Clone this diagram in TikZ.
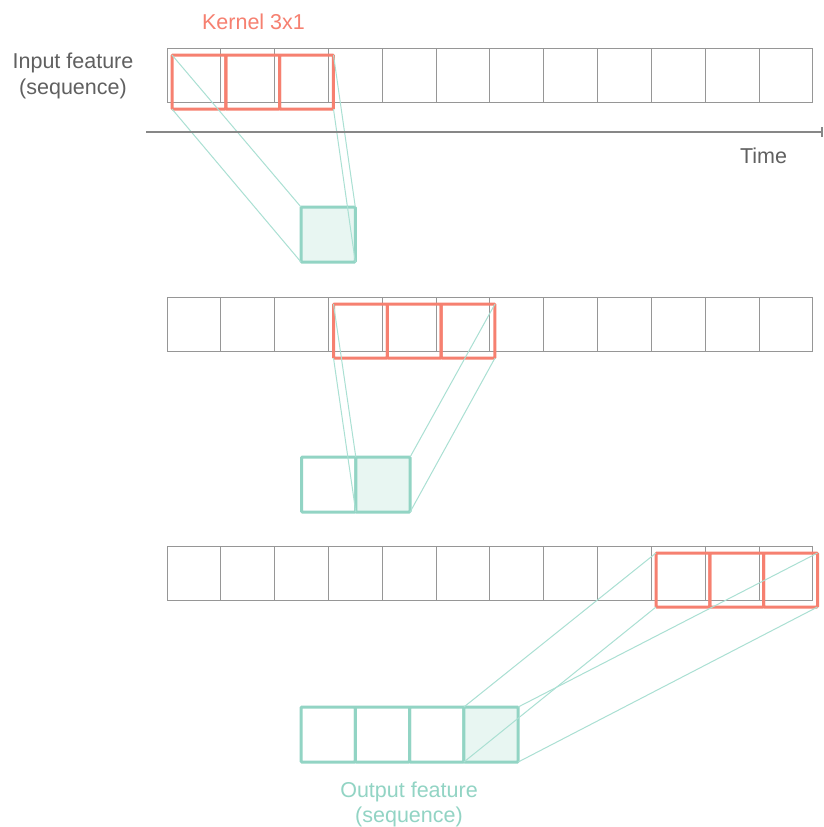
\documentclass[tikz,border=0pt]{standalone}
\usepackage{fontspec}
\setmainfont{Liberation Sans}
\usetikzlibrary{arrows.meta}
\definecolor{gridgray}{RGB}{150,150,150}
\definecolor{axisgray}{RGB}{135,135,135}
\definecolor{kred}{RGB}{246,128,112}
\definecolor{tgreen}{RGB}{146,212,196}
\definecolor{lgreen}{RGB}{170,224,211}
\definecolor{tfill}{RGB}{232,246,242}
\definecolor{txtgray}{RGB}{96,96,96}
\begin{document}
\begin{tikzpicture}[x=1pt,y=-1pt,
  cell/.style={draw=gridgray, line width=1pt, minimum width=53.83pt, minimum height=54pt, inner sep=0pt, outer sep=0pt, anchor=north west},
  kern/.style={draw=kred, line width=3pt, minimum width=53.83pt, minimum height=54pt, inner sep=0pt, outer sep=0pt, anchor=north west, rounded corners=1pt},
  ocell/.style={draw=tgreen, line width=3pt, minimum width=54.3pt, minimum height=55pt, inner sep=0pt, outer sep=0pt, anchor=north west, rounded corners=1pt},
  ofill/.style={ocell, fill=tfill},
  proj/.style={draw=lgreen, line width=1pt},
  lab/.style={font=\fontsize{21.5}{25}\selectfont, anchor=base, inner sep=0pt}]
\useasboundingbox (0,0) rectangle (824,827);
\fill[white] (0,0) rectangle (824,827);
% input grids
\foreach \i in {0,...,11} {
  \node[cell] (ga\i) at ({167+\i*53.83},48) {};
  \node[cell] (gb\i) at ({167+\i*53.83},297) {};
  \node[cell] (gc\i) at ({167+\i*53.83},546) {};
}
% kernels
\foreach \i/\n in {0/a,1/b,2/c} {
  \node[kern] (k1\n) at ({172+\i*53.83},55) {};
  \node[kern] (k2\n) at ({333.5+\i*53.83},304) {};
  \node[kern] (k3\n) at ({656+\i*53.83},553) {};
}
% outputs
\node[ofill] (o1a) at (301,207) {};
\node[ocell] (o2a) at (301.5,457) {};
\node[ofill] (o2b) at (355.8,457) {};
\node[ocell] (o3a) at (301,707) {};
\node[ocell] (o3b) at (355.3,707) {};
\node[ocell] (o3c) at (409.6,707) {};
\node[ofill] (o3d) at (463.9,707) {};
% projection lines
\foreach \k/\o in {1/o1a,2/o2b,3/o3d} {
  \draw[proj] (k\k a.north west) -- (\o.north west);
  \draw[proj] (k\k a.south west) -- (\o.south west);
  \draw[proj] (k\k c.north east) -- (\o.north east);
  \draw[proj] (k\k c.south east) -- (\o.south east);
}
% time axis
\coordinate (t0) at (146,132);
\coordinate (t1) at (822.5,132);
\draw[axisgray, line width=1.4pt, -{Bar[width=10pt, line width=1.4pt]}] (t0) -- (t1);
% labels
\node[lab, text=kred] (klab) at (253.5,29) {Kernel 3x1};
\node[lab, text=txtgray] (inA) at (73,68) {Input feature};
\node[lab, text=txtgray] (inB) at (73,94.5) {(sequence)};
\node[lab, text=txtgray] (tlab) at (763.5,163) {Time};
\node[lab, text=tgreen] (outA) at (409,797.5) {Output feature};
\node[lab, text=tgreen] (outB) at (409,822) {(sequence)};
\end{tikzpicture}
\end{document}
